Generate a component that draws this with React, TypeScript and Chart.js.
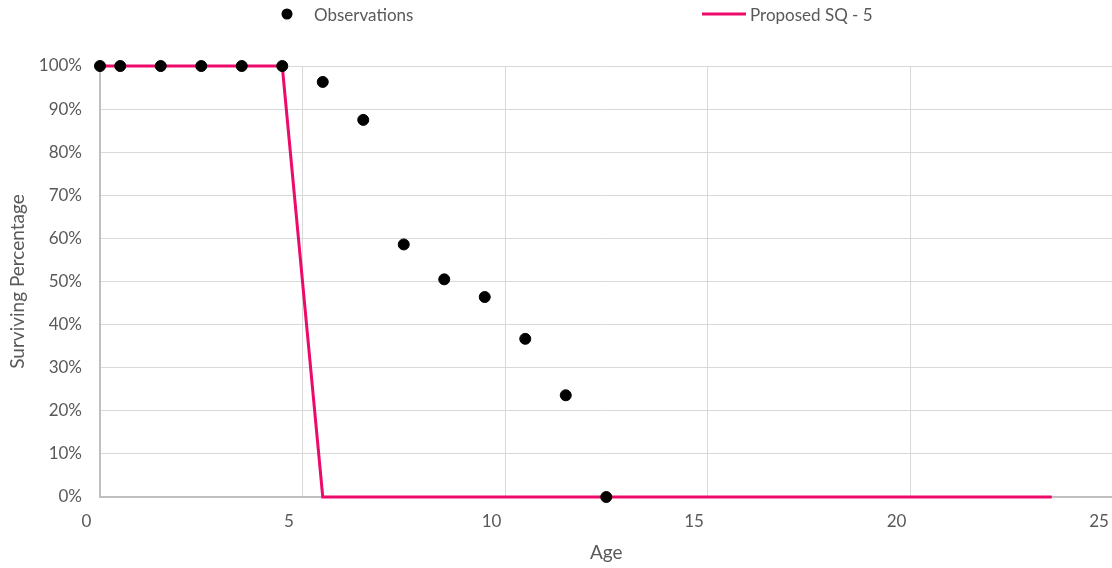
import React, { useEffect, useRef } from "react";
import { Chart, registerables } from "chart.js";

Chart.register(...registerables);

const obsAge = [0, 0.5, 1.5, 2.5, 3.5, 4.5, 5.5, 6.5, 7.5, 8.5, 9.5, 10.5, 11.5, 12.5];
const obsPct = [100, 100, 100, 100, 100, 100, 96.3, 87.5, 58.6, 50.5, 46.4, 36.7, 23.6, 0];

const modelAge = [0, 4.5, 5.5, 23.5];
const modelPct = [100, 100, 0, 0];

const xTicks = [0, 5, 10, 15, 20, 25];

const obsLabel = "Observations";
const modelLabel = "Proposed SQ - 5";
const xTitle = "Age";
const yTitle = "Surviving Percentage";

const PINK = "#EC0B6B";
const TEXT = "#595959";
const FONT = "Lato";

const legendPlugin = {
  id: "customLegend",
  afterDraw(chart: any) {
    const ctx = chart.ctx;
    ctx.save();
    const y = 14;
    ctx.fillStyle = "#000";
    ctx.beginPath();
    ctx.arc(287, y, 5.5, 0, Math.PI * 2);
    ctx.fill();
    ctx.font = `17px ${FONT}`;
    ctx.fillStyle = TEXT;
    ctx.textBaseline = "middle";
    ctx.textAlign = "left";
    ctx.fillText(obsLabel, 314, y + 1.5);
    ctx.strokeStyle = PINK;
    ctx.lineWidth = 3;
    ctx.beginPath();
    ctx.moveTo(702, y);
    ctx.lineTo(746, y);
    ctx.stroke();
    ctx.fillText(modelLabel, 750, y + 1.5);
    ctx.restore();
  },
};

export default function App() {
  const ref = useRef<HTMLCanvasElement>(null);
  useEffect(() => {
    if (!ref.current) return;
    const chart = new Chart(ref.current, {
      type: "scatter",
      data: {
        datasets: [
          {
            label: obsLabel,
            data: obsAge.map((x, i) => ({ x, y: obsPct[i] })),
            backgroundColor: "#000",
            borderColor: "#000",
            pointRadius: 5.5,
            showLine: false,
            clip: false,
            order: 0,
          },
          {
            label: modelLabel,
            data: modelAge.map((x, i) => ({ x, y: modelPct[i] })),
            borderColor: PINK,
            backgroundColor: PINK,
            borderWidth: 3,
            pointRadius: 0,
            showLine: true,
            tension: 0,
            clip: false,
            order: 1,
          },
        ],
      },
      options: {
        responsive: false,
        animation: false,
        layout: { padding: { top: 66, right: 0, left: 0, bottom: 0 } },
        plugins: {
          legend: { display: false },
          tooltip: { enabled: false },
        },
        scales: {
          x: {
            type: "linear",
            min: 0,
            max: 25,
            afterBuildTicks: (s: any) => {
              s.ticks = xTicks.map((v) => ({ value: v }));
            },
            afterFit: (s: any) => {
              s.height = 71;
              s.paddingLeft = 0;
              s.paddingRight = 0;
            },
            ticks: {
              labelOffset: -13.5,
              padding: 14,
              color: TEXT,
              font: { family: FONT, size: 17 },
              maxRotation: 0,
            },
            grid: { color: "#d9d9d9", lineWidth: 1, drawTicks: false },
            border: { color: "#bfbfbf", width: 2 },
            title: {
              display: true,
              text: xTitle,
              color: TEXT,
              font: { family: FONT, size: 19 },
              padding: { top: 0, bottom: 4 },
            },
          },
          y: {
            type: "linear",
            min: 0,
            max: 100,
            afterFit: (s: any) => {
              s.width = 100;
              s.paddingTop = 0;
              s.paddingBottom = 0;
            },
            ticks: {
              stepSize: 10,
              padding: 18,
              color: TEXT,
              font: { family: FONT, size: 17 },
              callback: (v: any) => `${v}%`,
            },
            grid: { color: "#d9d9d9", lineWidth: 1, drawTicks: false },
            border: { color: "#bfbfbf", width: 2 },
            title: {
              display: true,
              text: yTitle,
              color: TEXT,
              font: { family: FONT, size: 19 },
              padding: { top: 6, bottom: 0 },
            },
          },
        },
      },
      plugins: [legendPlugin],
    });
    return () => chart.destroy();
  }, []);
  return (
    <div style={{ position: "fixed", left: 0, top: 0, width: 1112, height: 568, overflow: "hidden", background: "#fff" }}>
      <canvas ref={ref} width={1119} height={568} style={{ display: "block" }} />
    </div>
  );
}
